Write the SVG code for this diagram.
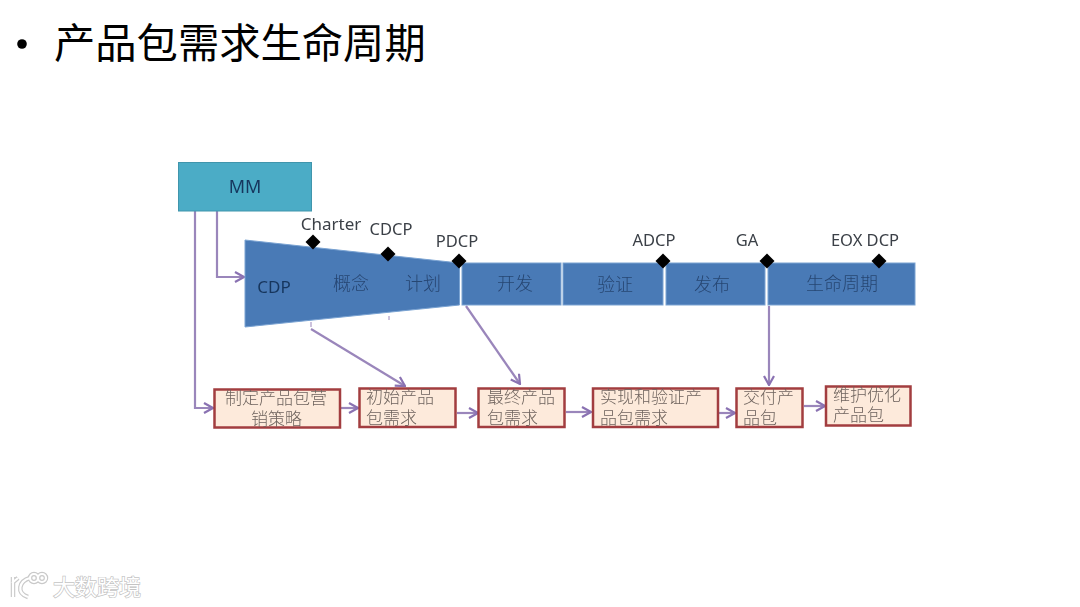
<svg xmlns="http://www.w3.org/2000/svg" width="1080" height="607" viewBox="0 0 1080 607">
<style>
text{font-family:"Liberation Sans","Noto Sans CJK SC",sans-serif}
.title{font-family:"Noto Sans CJK SC",sans-serif;font-size:41.3px;fill:#000}
.lat{font-family:"Noto Sans","Noto Sans CJK SC",sans-serif;font-size:16.5px;fill:#3a3f46;text-anchor:middle}
.ph{font-family:"Noto Sans CJK SC",sans-serif;font-size:18px;fill:#264672;text-anchor:middle;font-weight:300}
.en{font-family:"Noto Sans",sans-serif;font-size:17px;fill:#17365d;text-anchor:middle}
.blk{fill:#4a7ab6;stroke:#7aa3d2;stroke-width:1}
.box{fill:#fdeadb;stroke:#a23c3f;stroke-width:2.500}
.bt{font-family:"Noto Sans CJK SC",sans-serif;font-size:17px;fill:#6f645e;font-weight:300}
.dia{fill:#000}
.con{fill:none;stroke:#9a86bb;stroke-width:2.200;marker-end:url(#arr)}
.line{fill:none;stroke:#9a86bb;stroke-width:1}
.wm{font-family:"Noto Sans CJK SC",sans-serif;font-size:22px;fill:#fff;stroke:#c4c4c4;stroke-width:1.400;paint-order:stroke}
</style>
<defs>
<marker id="arr" viewBox="0 0 12 12" refX="11" refY="6" markerWidth="12" markerHeight="12" markerUnits="userSpaceOnUse" orient="auto"><path d="M2 1 L11 6 L2 11" fill="none" stroke="#8a72b2" stroke-width="2.200"/></marker>
<filter id="soft" x="-2%" y="-2%" width="104%" height="104%"><feGaussianBlur stdDeviation="0.45"/></filter>
</defs>
<rect width="1080" height="607" fill="#fff"/>
<g id="title"><circle cx="22" cy="44" r="4.800" fill="#000"/><text class="title" x="54" y="58">产品包需求生命周期</text></g>
<g filter="url(#soft)">
<g id="connectors">
<path class="con" d="M195 211V408H213"/>
<path class="con" d="M217 211V277H244"/>
<path class="con" d="M311 329L405 386"/>
<path class="con" d="M466 306L520 384"/>
<path class="con" d="M769 306V385"/>
<path class="con" d="M341 408H358"/>
<path class="con" d="M457 413H478"/>
<path class="con" d="M566 412H591"/>
<path class="con" d="M719 413H735"/>
<path class="con" d="M804 406H825"/>
<path class="line" d="M311 322v5M389 316v4"/>
</g>
<g id="mm"><rect x="178.500" y="162.500" width="133" height="48.500" fill="#4bacc6" stroke="#3f95ac"/><text class="en" x="245" y="193" style="font-size:18px">MM</text></g>
<g id="cdp"><path class="blk" d="M245 240L459.500 263V305L245 327Z"/><text class="en" x="274" y="293">CDP</text><text class="ph" x="351" y="290">概念</text><text class="ph" x="423" y="290">计划</text></g>
<g id="dev"><rect class="blk" x="462" y="263" width="99" height="42"/><text class="ph" x="515" y="290">开发</text></g>
<g id="verify"><rect class="blk" x="563" y="263" width="100" height="42"/><text class="ph" x="615" y="291">验证</text></g>
<g id="release"><rect class="blk" x="666" y="263" width="99" height="42"/><text class="ph" x="712" y="291">发布</text></g>
<g id="lifecycle"><rect class="blk" x="768" y="263" width="147" height="42"/><text class="ph" x="842" y="290">生命周期</text></g>
<g id="charter"><path class="dia" d="M313 234.500l7.500 7.500-7.500 7.500-7.500-7.500z"/><text class="lat" x="331" y="230" style="font-size:17px">Charter</text></g>
<g id="cdcp"><path class="dia" d="M388 246.500l7.500 7.500-7.500 7.500-7.500-7.500z"/><text class="lat" x="391" y="235">CDCP</text></g>
<g id="pdcp"><path class="dia" d="M459 253.500l7.500 7.500-7.500 7.500-7.500-7.500z"/><text class="lat" x="457" y="247">PDCP</text></g>
<g id="adcp"><path class="dia" d="M663 253.500l7.500 7.500-7.500 7.500-7.500-7.500z"/><text class="lat" x="654" y="246">ADCP</text></g>
<g id="ga"><path class="dia" d="M767 253.500l7.500 7.500-7.500 7.500-7.500-7.500z"/><text class="lat" x="747" y="246">GA</text></g>
<g id="eox"><path class="dia" d="M879 253.500l7.500 7.500-7.500 7.500-7.500-7.500z"/><text class="lat" x="865" y="246">EOX DCP</text></g>
<g id="b1"><rect class="box" x="214.500" y="389.500" width="125.500" height="38"/><text class="bt"><tspan x="225" y="404">制定产品包营</tspan><tspan x="251" y="425">销策略</tspan></text></g>
<g id="b2"><rect class="box" x="359.500" y="388.500" width="96" height="38.500"/><text class="bt"><tspan x="366" y="403">初始产品</tspan><tspan x="366" y="424">包需求</tspan></text></g>
<g id="b3"><rect class="box" x="478.500" y="388.500" width="86" height="38.500"/><text class="bt"><tspan x="487" y="403">最终产品</tspan><tspan x="487" y="424">包需求</tspan></text></g>
<g id="b4"><rect class="box" x="593" y="388.500" width="125" height="38.500"/><text class="bt"><tspan x="600" y="403">实现和验证产</tspan><tspan x="600" y="424">品包需求</tspan></text></g>
<g id="b5"><rect class="box" x="736.500" y="388.500" width="66" height="38.500"/><text class="bt"><tspan x="743" y="403">交付产</tspan><tspan x="743" y="424">品包</tspan></text></g>
<g id="b6"><rect class="box" x="826" y="386.500" width="84.500" height="39"/><text class="bt"><tspan x="833" y="401">维护优化</tspan><tspan x="833" y="421">产品包</tspan></text></g>
</g>
<g id="watermark">
<g fill="none" stroke="#c9c9c9" stroke-width="4.500"><path d="M13 577v20M12 583l6-5M30 578c-11 3-14 15-2 19"/><circle cx="34" cy="578" r="4"/><circle cx="42" cy="578" r="4"/></g>
<g fill="none" stroke="#fff" stroke-width="2.200"><path d="M13 577v20M12 583l6-5M30 578c-11 3-14 15-2 19"/><circle cx="34" cy="578" r="4"/><circle cx="42" cy="578" r="4"/></g>
<text class="wm" x="53" y="595">大数跨境</text>
</g>
</svg>
